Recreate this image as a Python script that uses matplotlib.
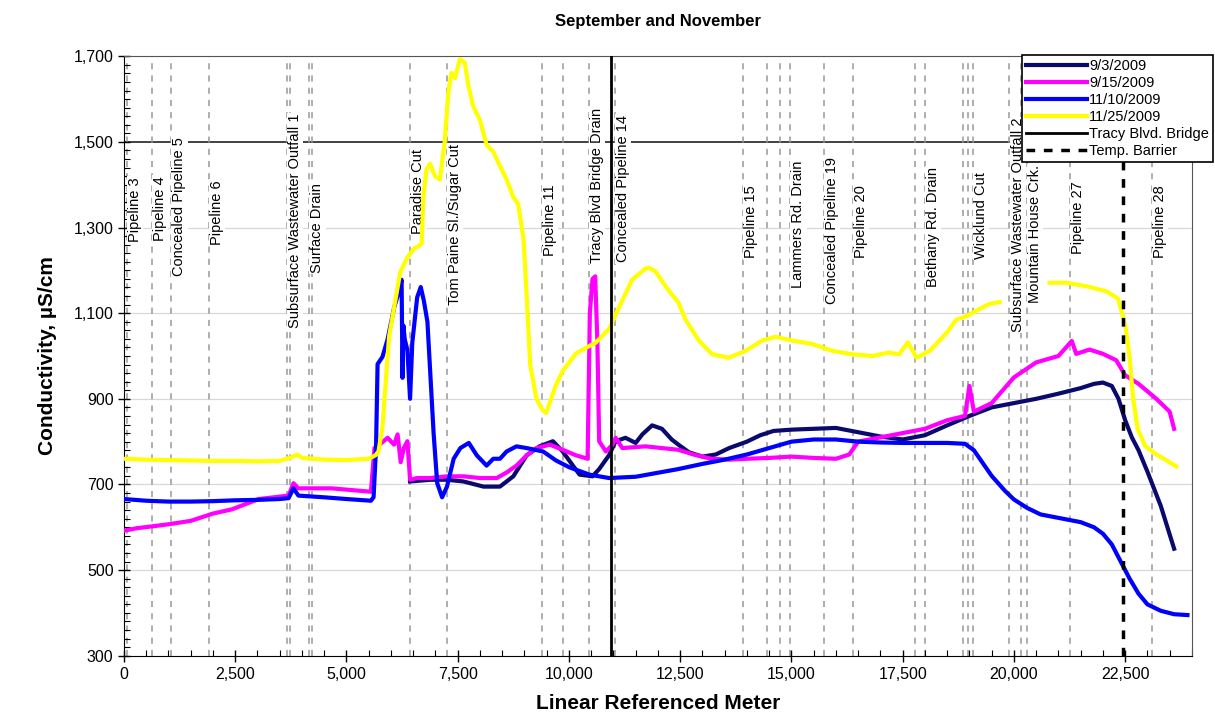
import numpy as np
import matplotlib
matplotlib.use("Agg")
import matplotlib.pyplot as plt
from matplotlib.ticker import MultipleLocator, FixedLocator, FuncFormatter

plt.rcParams['font.family'] = ['Liberation Sans', 'DejaVu Sans']

nan = np.nan

# 9/3/2009 (navy)
x_0903 = [6430, 6890, 7260, 7630, 8080, 8450, 8750, 9050, 9340, 9640, 9860,
          10090, 10240, 10530, 10680, 10900, 11050, 11270, 11500, 11650, 11870,
          12090, 12310, 12460, 12700, 13000, 13300, 13600, 14000, 14300, 14600,
          15000, 15500, 16000, 16500, 17000, 17500, 18000, 18500, 19000, 19500,
          20000, 20500, 21000, 21500, 21800, 22000, 22200, 22350, 22500, 22650,
          22800, 23000, 23150, 23300, 23450, 23600]
y_0903 = [707, 711, 711, 707, 695, 695, 719, 768, 789, 801, 777,
          744, 723, 719, 736, 768, 801, 809, 797, 817, 838,
          830, 805, 793, 775, 765, 770, 785, 800, 815, 825,
          828, 830, 832, 822, 812, 805, 815, 838, 860, 880,
          890, 900, 912, 925, 935, 938, 930, 900, 850, 810,
          780, 730, 690, 650, 600, 550]

# 9/15/2009 (magenta)
x_0915 = [0, 300, 700, 1000, 1500, 2000, 2430, 3030, 3700, 3810, 3920, 4660,
          5550, 5630, 5740, 5925, 6070, 6150, 6220, 6290, 6370, 6430, 6590,
          6890, 7260, 7630, 8000, 8380, 8600, 8820, 9050, 9270, 9570, 9860,
          10160, 10420, 10470, 10530, 10590, 10640, 10680, 10830, 10980, 11050,
          11200, 11720, 12460, 12800, 13200, 13600, 14000, 14500, 15000, 15500,
          16000, 16300, 16500, 17000, 17500, 18000, 18500, 18900, 19000, 19100,
          19500, 20000, 20500, 21000, 21300, 21400, 21700, 22000, 22300, 22500,
          22800, 23200, 23500, 23600]
y_0915 = [592, 598, 603, 607, 615, 632, 642, 666, 674, 703, 691, 691,
          683, 785, 793, 809, 793, 817, 752, 785, 801, 711, 715,
          715, 719, 719, 715, 715, 728, 744, 768, 785, 793, 781,
          768, 760, 1100, 1180, 1186, 1031, 801, 777, 793, 809,
          785, 789, 781, 770, 760, 758, 760, 762, 765, 762,
          760, 770, 800, 810, 820, 830, 850, 860, 930, 870,
          890, 950, 985, 1000, 1035, 1005, 1015, 1005, 990, 955,
          935, 900, 870, 830]

# 11/10/2009 (blue)
x_1110 = [0, 500, 1000, 1500, 2000, 2500, 3000, 3500, 3700, 3810, 3920, 4500,
          5000, 5550, 5610, 5665, 5700, 5810, 5925, 6070, 6185, 6240, 6260,
          6280, 6310, 6370, 6430, 6480, 6590, 6670, 6740, 6820, 6890, 6960,
          7040, 7150, 7260, 7410, 7560, 7750, 7930, 8150, 8300, 8450, 8600,
          8820, 9050, 9420, 9710, 10010, 10460, 10900, 11500, 12460, 13000,
          13500, 14000, 14500, 15000, 15500, 16000, 16500, 17000, 17500, 18000,
          18500, 18900, 19100, 19300, 19500, 19800, 20000, 20300, 20600, 21000,
          21500, 21800, 22000, 22200, 22400, 22600, 22800, 23000, 23300, 23600,
          23900]
y_1110 = [666, 662, 660, 660, 661, 663, 664, 666, 668, 691, 674, 670,
          666, 662, 670, 785, 981, 998, 1039, 1112, 1153, 1178, 949,
          1071, 1039, 1014, 900, 1031, 1137, 1161, 1129, 1080, 949, 818,
          703, 670, 695, 760, 785, 797, 768, 744, 760, 760, 777,
          789, 785, 777, 756, 740, 723, 715, 718, 736, 748,
          758, 770, 785, 800, 805, 805, 800, 798, 797, 797,
          797, 795, 780, 750, 720, 685, 665, 645, 630, 622,
          612, 600, 585, 560, 520, 480, 445, 420, 405, 397,
          395]

# 11/25/2009 (yellow), gap between about 19,700 and 20,800
x_1125 = [0, 500, 1000, 1500, 2000, 2500, 3000, 3500, 3800, 3900, 4000, 4500,
          5000, 5500, 5650, 5720, 5810, 5890, 5960, 6070, 6210, 6370, 6520,
          6600, 6690, 6730, 6800, 6880, 6990, 7100, 7210, 7290, 7360, 7440,
          7550, 7660, 7740, 7850, 8000, 8150, 8300, 8450, 8600, 8750, 8860,
          8980, 9050, 9130, 9270, 9400, 9490, 9570, 9700, 9860, 10160, 10400,
          10600, 10900, 11120, 11420, 11720, 11800, 11940, 12240, 12460, 12620,
          12920, 13220, 13590, 13970, 14340, 14640, 15020, 15470, 15920, 16370,
          16820, 17190, 17420, 17620, 17810, 18110, 18480, 18710, 18930, 19230,
          19460, 19680, 20200, 20800, 21180, 21630, 22080, 22340, 22450, 22520,
          22600, 22680, 22780, 22950, 23200, 23450, 23650]
y_1125 = [760, 758, 757, 756, 755, 755, 754, 755, 765, 770, 762, 758,
          757, 760, 768, 777, 834, 949, 1047, 1112, 1196, 1230, 1251,
          1255, 1262, 1371, 1436, 1449, 1420, 1412, 1502, 1616, 1661, 1649,
          1693, 1685, 1632, 1583, 1551, 1493, 1477, 1444, 1412, 1371, 1355,
          1273, 1142, 979, 900, 875, 867, 891, 930, 965, 1006, 1020,
          1031, 1063, 1112, 1178, 1204, 1206, 1198, 1153, 1125, 1085,
          1036, 1004, 996, 1012, 1036, 1045, 1036, 1028, 1012, 1004,
          1000, 1008, 1004, 1032, 996, 1012, 1053, 1085, 1093, 1110,
          1122, 1126, nan, 1171, 1171, 1163, 1151, 1134, 1093, 1061,
          996, 900, 830, 790, 770, 755, 742]

series = [
    ("9/3/2009", x_0903, y_0903, "#0a0a6e"),
    ("9/15/2009", x_0915, y_0915, "#ff00ff"),
    ("11/10/2009", x_1110, y_1110, "#0000ff"),
    ("11/25/2009", x_1125, y_1125, "#ffff00"),
]

# landmarks along the channel
landmark_names = ["Pipeline 3", "Pipeline 4", "Concealed Pipeline 5", "Pipeline 6",
                  "Subsurface Wastewater Outfall 1", "Surface Drain", "Paradise Cut",
                  "Tom Paine Sl./Sugar Cut", "Pipeline 11", "Tracy Blvd Bridge Drain",
                  "Concealed Pipeline 14", "Pipeline 15", "Lammers Rd. Drain",
                  "Concealed Pipeline 19", "Pipeline 20", "Bethany Rd. Drain",
                  "Wicklund Cut", "Subsurface Wastewater Outfall 2",
                  "Mountain House Crk.", "Pipeline 27", "Pipeline 28"]
landmark_x = [60, 620, 1060, 1910, 3660, 4160, 6430, 7250, 9390, 10450, 11030,
              13910, 14970, 15730, 16380, 18000, 19080, 19900, 20290, 21260, 23100]
label_y = [1341, 1345, 1350, 1334, 1315, 1299, 1385, 1306, 1317, 1399, 1390,
           1313, 1308, 1294, 1315, 1301, 1329, 1306, 1285, 1324, 1313]
other_x = [3730, 4230, 9870, 14440, 14740, 17780, 18850, 18970, 20160]

bridge_x = 10940
barrier_x = 22450

y_ticks = [300, 500, 700, 900, 1100, 1300, 1500, 1700]

fig = plt.figure(figsize=(12.15, 7.12), dpi=100)
ax = fig.add_axes([0.102, 0.079, 0.879, 0.842])

for v in y_ticks[1:-2]:
    ax.axhline(v, color="#d8d8d8", lw=0.9, zorder=0)
ax.axhline(1500, color="#333333", lw=1.3, zorder=1)

for x in landmark_x + other_x:
    ax.axvline(x, color="#999999", lw=1.1, ls=(0, (4, 4)), zorder=1)

for name, x, y in zip(landmark_names, landmark_x, label_y):
    ax.annotate(name, (x, y), xytext=(6, 0), textcoords="offset points",
                rotation=90, ha="center", va="center", fontsize=10.5,
                bbox=dict(facecolor="white", edgecolor="none", pad=0.8),
                zorder=2)

for label, x, y, c in series:
    ax.plot(x, y, color=c, lw=3, label=label, zorder=3, solid_joinstyle="round")

ax.axvline(bridge_x, color="black", lw=2, label="Tracy Blvd. Bridge", zorder=4)
ax.axvline(barrier_x, color="black", lw=2.5, ls=(0, (2.5, 2.5)),
           label="Temp. Barrier", zorder=4)

ax.set_xlim(0, 24000)
ax.set_ylim(300, 1700)
ax.xaxis.set_major_locator(MultipleLocator(2500))
ax.xaxis.set_minor_locator(MultipleLocator(500))
ax.yaxis.set_major_locator(FixedLocator(y_ticks))
ax.yaxis.set_minor_locator(MultipleLocator(20))
fmt = FuncFormatter(lambda v, p: f"{int(v):,}")
ax.xaxis.set_major_formatter(fmt)
ax.yaxis.set_major_formatter(fmt)
ax.tick_params(which="major", direction="inout", length=8, width=1, labelsize=11.5)
ax.tick_params(which="minor", direction="in", length=4, width=0.8)
ax.tick_params(axis="x", pad=4)

for s in ["top", "right"]:
    ax.spines[s].set_color("#555555")

ax.set_title("September and November", fontsize=12, fontweight="bold", pad=22)
ax.set_xlabel("Linear Referenced Meter", fontsize=15, fontweight="bold", labelpad=9)
ax.set_ylabel("Conductivity, µS/cm", fontsize=15, fontweight="bold", labelpad=12)

leg = ax.legend(loc="upper left", bbox_to_anchor=(0.841, 0.923),
                bbox_transform=fig.transFigure, fontsize=10.5, frameon=True,
                fancybox=False, framealpha=1, edgecolor="black",
                handlelength=4.2, handletextpad=0.1, labelspacing=0.2,
                borderpad=0.3, borderaxespad=0)
leg.get_frame().set_linewidth(1.2)
leg.set_zorder(10)

fig.savefig("out.png", dpi=100)
